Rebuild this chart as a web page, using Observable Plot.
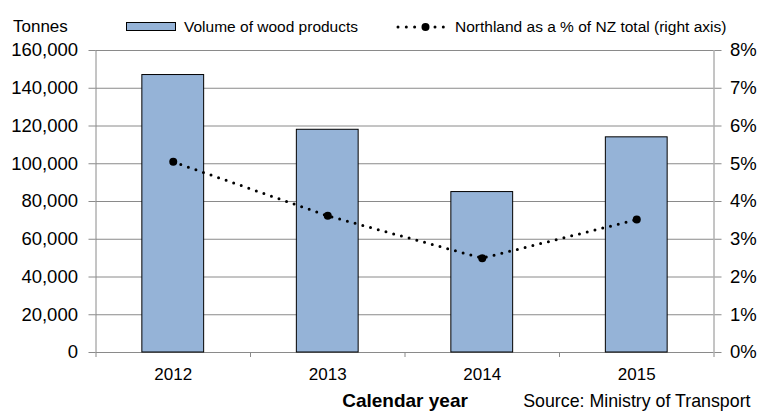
<!DOCTYPE html>
<html>
<head>
<meta charset="utf-8">
<script src="https://cdn.jsdelivr.net/npm/d3@7"></script>
<script src="https://cdn.jsdelivr.net/npm/@observablehq/plot@0.6"></script>
<style>
  html, body { margin: 0; padding: 0; background: #fff; overflow: hidden; }
  #wrap { position: relative; width: 761px; height: 412px; font-family: "Liberation Sans", Arial, sans-serif; }
  #legend { position: absolute; left: 0; top: 0; width: 761px; height: 40px; font-size: 15.5px; color: #000; }
  .item { position: absolute; top: 18px; display: flex; align-items: center; white-space: nowrap; line-height: 18px; }
  .item svg { display: block; margin-right: 7px; }
</style>
</head>
<body>
<div id="wrap">
  <div id="chart"></div>
  <div id="legend">
    <div class="item" style="left:126px">
      <svg width="51" height="10"><rect x="0.5" y="0.5" width="49" height="8" fill="#95B3D7" stroke="#000" stroke-width="1"></rect></svg>
      <span id="lg1"></span>
    </div>
    <div class="item" style="left:396px">
      <svg width="52" height="10">
        <circle cx="2" cy="5" r="1.5" fill="#000"></circle>
        <circle cx="10.3" cy="5" r="1.5" fill="#000"></circle>
        <circle cx="18.6" cy="5" r="1.5" fill="#000"></circle>
        <circle cx="29.5" cy="5" r="4" fill="#000"></circle>
        <circle cx="39" cy="5" r="1.5" fill="#000"></circle>
        <circle cx="47.3" cy="5" r="1.5" fill="#000"></circle>
      </svg>
      <span id="lg2"></span>
    </div>
  </div>
</div>
<script>
// ---- data ----
const years = [2012, 2013, 2014, 2015];
const volumes = [147000, 118000, 85000, 114000];
const pctNZ = [5.05, 3.62, 2.5, 3.52];
const leftTicks = [0, 20000, 40000, 60000, 80000, 100000, 120000, 140000, 160000];
const rightTickLabels = ["0%", "1%", "2%", "3%", "4%", "5%", "6%", "7%", "8%"];
const seriesNames = ["Volume of wood products", "Northland as a % of NZ total (right axis)"];
const yAxisTitle = "Tonnes";
const xAxisTitle = "Calendar year";
const sourceText = "Source: Ministry of Transport";

document.getElementById("lg1").textContent = seriesNames[0];
document.getElementById("lg2").textContent = seriesNames[1];

const data = years.map((year, i) => ({year, volume: volumes[i], pct: pctNZ[i]}));
const yMax = leftTicks[leftTicks.length - 1];
const pctMax = 8;
const ratio = yMax / pctMax;
const xDomain = [years[0] - 0.5, years[years.length - 1] + 0.5];
const boundaries = years.map(y => y - 0.5).concat([xDomain[1]]);
const gray = "#8a8a8a";
const fmt = d3.format(",");

const chart = Plot.plot({
  width: 761,
  height: 412,
  marginLeft: 95.5,
  marginRight: 47.5,
  marginTop: 50,
  marginBottom: 60,
  style: {fontFamily: '"Liberation Sans", Arial, sans-serif', fontSize: "17px", color: "#000", background: "#fff"},
  x: {type: "linear", domain: xDomain},
  y: {domain: [0, yMax]},
  marks: [
    Plot.gridY({ticks: leftTicks, stroke: gray, strokeOpacity: 1, strokeWidth: 1}),
    Plot.ruleX([xDomain[0], xDomain[1]], {stroke: gray, strokeWidth: 1}),
    Plot.axisY({ticks: leftTicks, tickSize: 7, tickPadding: 11, stroke: gray, tickFormat: fmt, label: null, fontSize: 18.5}),
    Plot.axisY({anchor: "right", ticks: leftTicks, tickSize: 7, tickPadding: 9, stroke: gray,
      tickFormat: d => rightTickLabels[leftTicks.indexOf(d)], label: null, fontSize: 18.5}),
    Plot.axisX({ticks: boundaries, tickSize: 5, stroke: gray, tickFormat: () => "", label: null}),
    Plot.axisX({ticks: years, tickSize: 0, tickPadding: 15, tickFormat: d => String(d), label: null}),
    Plot.rectY(data, {x1: d => d.year - 0.2, x2: d => d.year + 0.2, y: "volume", fill: "#95B3D7", stroke: "#000", strokeWidth: 1}),
    Plot.line(data, {x: "year", y: d => d.pct * ratio, stroke: "#000", strokeWidth: 3, strokeLinecap: "round", strokeDasharray: "0,8"}),
    Plot.dot(data, {x: "year", y: d => d.pct * ratio, r: 4, fill: "#000", stroke: null}),
    Plot.text([yAxisTitle], {frameAnchor: "top-left", lineAnchor: "middle", textAnchor: "start", dx: -83, dy: -23.5, fontSize: 17}),
    Plot.text([xAxisTitle], {frameAnchor: "bottom", lineAnchor: "middle", dy: 48, fontWeight: "bold", fontSize: 19}),
    Plot.text([sourceText], {frameAnchor: "bottom-right", lineAnchor: "middle", textAnchor: "end", dx: 36.5, dy: 49, fontSize: 17.8})
  ]
});
chart.style.display = "block";
document.getElementById("chart").appendChild(chart);
</script>
</body>
</html>
